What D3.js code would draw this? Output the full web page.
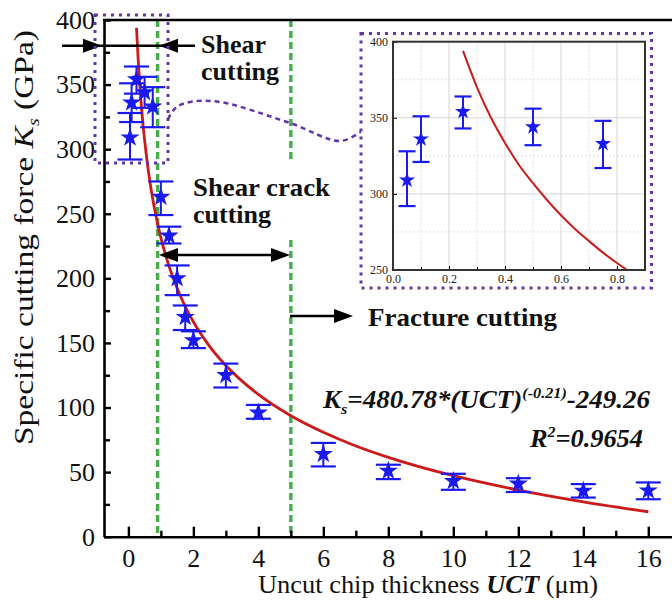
<!DOCTYPE html>
<html>
<head>
<meta charset="utf-8">
<script src="https://cdn.jsdelivr.net/npm/d3@7"></script>
<style>
  body { margin: 0; background: #fff; }
</style>
</head>
<body>
<svg width="672" height="606"></svg>
<script>
// measured points (UCT in um, Ks in GPa) with error bar ends
var uct    = [0.05, 0.1, 0.25, 0.5, 0.75, 1, 1.25, 1.5, 1.75, 2, 3, 4, 6, 8, 10, 12, 14, 16];
var ks     = [309, 336, 354, 344, 333, 263, 233, 200, 170, 152, 125, 96, 64, 51, 43, 41, 35.5, 35.7];
var ksHigh = [328, 351, 364, 356, 348, 275, 240, 210, 179, 159, 134, 102, 72.6, 55.7, 48.7, 45.3, 40.7, 42];
var ksLow  = [292, 321, 343, 332, 317, 249, 227, 187, 160, 146, 115.5, 91.3, 54.4, 44.6, 36.3, 34.6, 30.3, 29];

// fitted curve
var fitX = [0.25, 0.3, 0.35, 0.4, 0.45, 0.5, 0.55, 0.6, 0.65, 0.7, 0.75, 0.8, 0.85, 0.9, 1, 1.25, 1.5, 1.75, 2, 2.5, 3, 4, 5, 6, 7, 8, 10, 12, 14, 16];
var fitY = [394, 370, 350, 333.5, 319, 307, 296, 286, 277, 269, 261.4, 254.6, 248.2, 242.3, 231.5, 209.5, 192.3, 178.2, 166.4, 147.4, 132.5, 110.1, 93.6, 80.8, 70.2, 61.4, 47.2, 36.1, 27, 19.3];

var xTicks = [0, 2, 4, 6, 8, 10, 12, 14, 16];
var xMinor = [1, 3, 5, 7, 9, 11, 13, 15];
var yTicks = [0, 50, 100, 150, 200, 250, 300, 350, 400];
var yMinor = [25, 75, 125, 175, 225, 275, 325, 375];

var insetXTicks = [0.0, 0.2, 0.4, 0.6, 0.8];
var insetXMinor = [0.1, 0.3, 0.5, 0.7];
var insetYTicks = [250, 300, 350, 400];
var insetYMinor = [275, 325, 375];

var blue = "#1a1af0", red = "#cc1a1a", green = "#45ad4a", purple = "#6236a8";
var FONT = "'Liberation Serif', 'Times New Roman', Tinos, 'DejaVu Serif', serif";

var svg = d3.select("svg");
var pts = uct.map((u, i) => ({x: u, y: ks[i], hi: ksHigh[i], lo: ksLow[i]}));
var fit = fitX.map((u, i) => ({x: u, y: fitY[i]}));

// main scales
var xScale = d3.scaleLinear().domain([-0.75, 16.73]).range([104, 672]);
var yScale = d3.scaleLinear().domain([0, 400]).range([536.7, 20]);

// green region separators
function vdash(x, y0, y1) {
  svg.append("line")
    .attr("x1", xScale(x)).attr("x2", xScale(x))
    .attr("y1", y0).attr("y2", y1)
    .attr("stroke", green).attr("stroke-width", 3.4)
    .attr("stroke-dasharray", "7,4");
}
vdash(0.9, 20, 536);
vdash(5, 20, 163);
vdash(5, 240, 536);

// fitted curve
var line = d3.line().x(d => xScale(d.x)).y(d => yScale(d.y)).curve(d3.curveMonotoneX);
svg.append("path").datum(fit)
  .attr("d", line).attr("fill", "none")
  .attr("stroke", red).attr("stroke-width", 2.8);

// error bars + stars
function drawPoints(g, data, xs, ys, cap, starSize) {
  var p = g.selectAll("g.pt").data(data).enter().append("g").attr("class", "pt");
  p.append("line")
    .attr("x1", d => xs(d.x)).attr("x2", d => xs(d.x))
    .attr("y1", d => ys(d.hi)).attr("y2", d => ys(d.lo))
    .attr("stroke", blue).attr("stroke-width", 2);
  p.append("line")
    .attr("x1", d => xs(d.x) - cap).attr("x2", d => xs(d.x) + cap)
    .attr("y1", d => ys(d.hi)).attr("y2", d => ys(d.hi))
    .attr("stroke", blue).attr("stroke-width", 2.2);
  p.append("line")
    .attr("x1", d => xs(d.x) - cap).attr("x2", d => xs(d.x) + cap)
    .attr("y1", d => ys(d.lo)).attr("y2", d => ys(d.lo))
    .attr("stroke", blue).attr("stroke-width", 2.2);
  p.append("path")
    .attr("transform", d => "translate(" + xs(d.x) + "," + ys(d.y) + ")")
    .attr("d", d3.symbol(d3.symbolStar).size(starSize))
    .attr("fill", blue);
}
drawPoints(svg.append("g"), pts, xScale, yScale, 12.5, 115);

// axes
var xAxis = d3.axisBottom(xScale).tickValues(xTicks).tickSize(-10).tickSizeOuter(0).tickPadding(12);
var gx = svg.append("g").attr("transform", "translate(0," + yScale(0) + ")").call(xAxis);
gx.select(".domain").attr("stroke-width", 2.6);
gx.selectAll(".tick line").attr("stroke-width", 2.4);

var gxm = svg.append("g").attr("transform", "translate(0," + yScale(0) + ")")
  .call(d3.axisBottom(xScale).tickValues(xMinor).tickSize(-6).tickFormat(""));
gxm.select(".domain").remove();
gxm.selectAll(".tick line").attr("stroke-width", 2.4);

var yAxis = d3.axisLeft(yScale).tickValues(yTicks).tickSize(-7).tickSizeOuter(0).tickPadding(9);
var gy = svg.append("g").attr("transform", "translate(104,0)").call(yAxis);
gy.select(".domain").attr("stroke-width", 2.6);
gy.selectAll(".tick line").attr("stroke-width", 2.4);

[gx, gy].forEach(g => {
  g.attr("font-family", FONT).attr("font-size", 26);
  g.selectAll("text").attr("fill", "#111");
});

var gym = svg.append("g").attr("transform", "translate(104,0)")
  .call(d3.axisLeft(yScale).tickValues(yMinor).tickSize(-6).tickFormat(""));
gym.select(".domain").remove();
gym.selectAll(".tick line").attr("stroke-width", 2.4);

// top frame
svg.append("line").attr("x1", 103).attr("x2", 672).attr("y1", 20).attr("y2", 20)
  .attr("stroke", "#000").attr("stroke-width", 2.6);

// axis titles
var yt = svg.append("text")
  .attr("transform", "translate(33,237.5) rotate(-90)")
  .attr("font-family", FONT)
  .attr("textLength", 415).attr("lengthAdjust", "spacingAndGlyphs")
  .attr("text-anchor", "middle").attr("font-size", 27).attr("fill", "#111");
yt.append("tspan").text("Specific cutting force ");
yt.append("tspan").attr("font-style", "italic").text("K");
yt.append("tspan").attr("font-style", "italic").attr("font-size", 16).attr("dy", 6).text("s");
yt.append("tspan").attr("dy", -6).text(" (GPa)");

var xt = svg.append("text")
  .attr("x", 428).attr("y", 593).attr("font-family", FONT)
  .attr("textLength", 340).attr("lengthAdjust", "spacingAndGlyphs")
  .attr("text-anchor", "middle").attr("font-size", 25).attr("fill", "#111");
xt.append("tspan").text("Uncut chip thickness ");
xt.append("tspan").attr("font-style", "italic").attr("font-weight", "bold").text("UCT");
xt.append("tspan").text(" (\u03bcm)");

// arrows
function arrowHead(x, y, dir) {
  var L = 19, H = 7;
  svg.append("path")
    .attr("d", "M" + x + "," + y + "L" + (x - dir * L) + "," + (y - H) + "L" + (x - dir * L) + "," + (y + H) + "Z")
    .attr("fill", "#000");
}
function hline(x0, x1, y) {
  svg.append("line").attr("x1", x0).attr("x2", x1).attr("y1", y).attr("y2", y)
    .attr("stroke", "#000").attr("stroke-width", 2.5);
}
hline(62, 195, 45.7);
arrowHead(102, 45.7, 1);
arrowHead(159, 45.7, -1);

hline(162, 286, 255);
arrowHead(159, 255, -1);
arrowHead(290, 255, 1);

hline(290, 340, 316);
arrowHead(353, 316, 1);

// region labels
function label(x, y, s, size, len) {
  var t = svg.append("text").attr("x", x).attr("y", y).attr("font-family", FONT)
    .attr("font-size", size).attr("font-weight", "bold").attr("fill", "#111").text(s);
  if (len) t.attr("textLength", len).attr("lengthAdjust", "spacingAndGlyphs");
}
label(201, 53, "Shear", 26);
label(201, 80, "cutting", 26);
label(193, 196, "Shear crack", 26, 137);
label(193, 223, "cutting", 26);
label(368, 326, "Fracture cutting", 26, 189);

// formula
var f = svg.append("text").attr("x", 323).attr("y", 408).attr("font-family", FONT)
  .attr("textLength", 327).attr("lengthAdjust", "spacingAndGlyphs")
  .attr("font-size", 25).attr("font-weight", "bold").attr("font-style", "italic").attr("fill", "#111");
f.append("tspan").text("K");
f.append("tspan").attr("font-size", 15).attr("dy", 6).text("s");
f.append("tspan").attr("dy", -6).text("=480.78*(UCT)");
f.append("tspan").attr("font-size", 15).attr("dy", -10).text("(-0.21)");
f.append("tspan").attr("dy", 10).text("-249.26");

var r2 = svg.append("text").attr("x", 643).attr("y", 447).attr("text-anchor", "end").attr("font-family", FONT)
  .attr("textLength", 113).attr("lengthAdjust", "spacingAndGlyphs")
  .attr("font-size", 25).attr("font-weight", "bold").attr("font-style", "italic").attr("fill", "#111");
r2.append("tspan").text("R");
r2.append("tspan").attr("font-size", 15).attr("dy", -10).text("2");
r2.append("tspan").attr("dy", 10).text("=0.9654");

// zoom boxes + connector
function dotBox(x0, y0, x1, y1) {
  svg.append("rect").attr("x", x0).attr("y", y0).attr("width", x1 - x0).attr("height", y1 - y0)
    .attr("fill", "none").attr("stroke", purple).attr("stroke-width", 3)
    .attr("stroke-dasharray", "3,5");
}
dotBox(95, 15, 168, 163);

svg.append("path")
  .datum([[168, 119], [178, 106], [212, 101], [290, 123], [340, 141], [362, 131]])
  .attr("d", d3.line().curve(d3.curveCatmullRom))
  .attr("fill", "none").attr("stroke", purple).attr("stroke-width", 2.5)
  .attr("stroke-dasharray", "5,4");

// inset
var ix = d3.scaleLinear().domain([0, 0.9]).range([393, 645]);
var iy = d3.scaleLinear().domain([250, 400]).range([270, 41.7]);
var inset = svg.append("g");
inset.append("rect").attr("x", 361).attr("y", 33).attr("width", 291).attr("height", 255).attr("fill", "#fff");

inset.selectAll("line.gmx").data(insetXMinor).enter().append("line")
  .attr("x1", d => ix(d)).attr("x2", d => ix(d)).attr("y1", iy(400)).attr("y2", iy(250))
  .attr("stroke", "#e2e2e2").attr("stroke-dasharray", "2,2");
inset.selectAll("line.gmy").data(insetYMinor).enter().append("line")
  .attr("x1", ix(0)).attr("x2", ix(0.9)).attr("y1", d => iy(d)).attr("y2", d => iy(d))
  .attr("stroke", "#e2e2e2").attr("stroke-dasharray", "2,2");
inset.selectAll("line.gx").data(insetXTicks.slice(1)).enter().append("line")
  .attr("x1", d => ix(d)).attr("x2", d => ix(d)).attr("y1", iy(400)).attr("y2", iy(250))
  .attr("stroke", "#d6d6d6");
inset.selectAll("line.gy").data([300, 350]).enter().append("line")
  .attr("x1", ix(0)).attr("x2", ix(0.9)).attr("y1", d => iy(d)).attr("y2", d => iy(d))
  .attr("stroke", "#d6d6d6");

inset.append("clipPath").attr("id", "iclip").append("rect")
  .attr("x", ix(0)).attr("y", iy(400)).attr("width", ix(0.9) - ix(0)).attr("height", iy(250) - iy(400));
var iline = d3.line().x(d => ix(d.x)).y(d => iy(d.y)).curve(d3.curveMonotoneX);
inset.append("path").datum(fit.filter(d => d.x <= 0.9))
  .attr("d", iline).attr("clip-path", "url(#iclip)")
  .attr("fill", "none").attr("stroke", red).attr("stroke-width", 2);

drawPoints(inset.append("g"), pts.filter(d => d.x < 0.9), ix, iy, 8.5, 80);

var igx = inset.append("g").attr("transform", "translate(0," + iy(250) + ")")
  .call(d3.axisBottom(ix).tickValues(insetXTicks).tickSize(-4).tickSizeOuter(0).tickPadding(4).tickFormat(d3.format(".1f")));
var igxm = inset.append("g").attr("transform", "translate(0," + iy(250) + ")")
  .call(d3.axisBottom(ix).tickValues(insetXMinor).tickSize(-3).tickFormat(""));
igxm.select(".domain").remove();
var igy = inset.append("g").attr("transform", "translate(" + ix(0) + ",0)")
  .call(d3.axisLeft(iy).tickValues(insetYTicks).tickSize(-4).tickSizeOuter(0).tickPadding(5));
[igx, igy].forEach(g => {
  g.attr("font-family", FONT).attr("font-size", 12);
  g.selectAll("text").attr("fill", "#222");
});
inset.append("rect").attr("x", ix(0)).attr("y", iy(400))
  .attr("width", ix(0.9) - ix(0)).attr("height", iy(250) - iy(400))
  .attr("fill", "none").attr("stroke", "#333").attr("stroke-width", 2);

dotBox(361, 33.5, 651.5, 288);
</script>
</body>
</html>
